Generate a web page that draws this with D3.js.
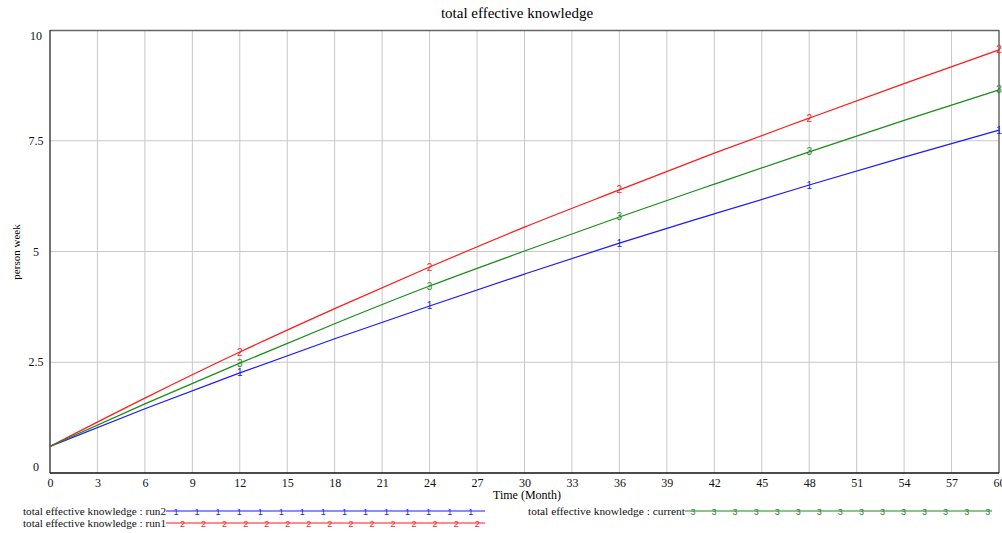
<!DOCTYPE html>
<html>
<head>
<meta charset="utf-8">
<script src="https://cdn.jsdelivr.net/npm/d3@7"></script>
<style>
  html, body { margin: 0; padding: 0; background: #fff; }
  svg { display: block; font-family: "Liberation Serif", "Times New Roman", serif; }
</style>
</head>
<body>
<svg id="chart" width="1002" height="533"></svg>
<script>
// Simulation output: total effective knowledge (person week) by month
const months = [0, 6, 12, 18, 24, 30, 36, 42, 48, 54, 60];
const run2 = [0.6, 1.45, 2.26, 3.03, 3.77, 4.49, 5.19, 5.85, 6.50, 7.13, 7.74];
const run1 = [0.6, 1.69, 2.73, 3.71, 4.65, 5.55, 6.39, 7.22, 8.01, 8.79, 9.55];
const current = [0.6, 1.56, 2.48, 3.37, 4.22, 5.01, 5.78, 6.52, 7.25, 7.96, 8.65];
const markerMonths = [12, 24, 36, 48, 60];
const xTicks = d3.range(0, 61, 3);
const yTicks = [0, 2.5, 5, 7.5, 10];
const yTickLabels = ["0", "2.5", "5", "7.5", "10"];

const series = [
  { name: "total effective knowledge : run2", values: run2, color: "#1a1aff", mark: "1" },
  { name: "total effective knowledge : run1", values: run1, color: "#ff1a1a", mark: "2" },
  { name: "total effective knowledge : current", values: current, color: "#1a8c1a", mark: "3" }
];

const svg = d3.select("#chart");
const plotLeft = 50, plotRight = 999, plotTop = 30, plotBottom = 473;

const x = d3.scaleLinear().domain([0, 60]).range([plotLeft, plotRight]);
const y = d3.scaleLinear().domain([0, 10]).range([plotBottom, plotTop]);

// Title
svg.append("text").attr("x", 517).attr("y", 18).attr("text-anchor", "middle")
  .attr("font-size", 15).text("total effective knowledge");

// Grid lines
const grid = svg.append("g");
grid.selectAll("line.v").data(xTicks.filter(d => d > 0 && d < 60)).join("line")
  .attr("x1", d => x(d)).attr("x2", d => x(d)).attr("y1", plotTop).attr("y2", plotBottom)
  .attr("stroke", "#c8c8c8").attr("stroke-width", 1);
grid.selectAll("line.h").data(yTicks.filter(d => d > 0 && d < 10)).join("line")
  .attr("x1", plotLeft).attr("x2", plotRight).attr("y1", d => y(d)).attr("y2", d => y(d))
  .attr("stroke", "#c8c8c8").attr("stroke-width", 1);

// Frame
svg.append("line").attr("x1", plotLeft).attr("x2", plotRight).attr("y1", plotTop + 0.5).attr("y2", plotTop + 0.5)
  .attr("stroke", "#666").attr("stroke-width", 1.5);
svg.append("line").attr("x1", plotRight).attr("x2", plotRight).attr("y1", plotTop).attr("y2", plotBottom)
  .attr("stroke", "#666").attr("stroke-width", 1.5);
svg.append("line").attr("x1", plotLeft).attr("x2", plotLeft).attr("y1", plotTop).attr("y2", plotBottom)
  .attr("stroke", "#444").attr("stroke-width", 1.5);
svg.append("line").attr("x1", plotLeft).attr("x2", plotRight).attr("y1", plotBottom).attr("y2", plotBottom)
  .attr("stroke", "#111").attr("stroke-width", 1.5);

// X axis labels
const xAxis = d3.axisBottom(x).tickValues(xTicks).tickSize(0).tickPadding(0).tickFormat(d3.format("d"));
const gx = svg.append("g").attr("transform", `translate(0,${plotBottom})`).call(xAxis);
gx.select(".domain").remove();
gx.selectAll("text").attr("font-family", "Liberation Serif, serif").attr("font-size", 12)
  .attr("fill", "#111").attr("dy", "1em").attr("y", 2);

// Y labels, kept inside the frame at the ends
const yAxis = svg.append("g");
yAxis.selectAll("text").data(yTicks).join("text")
  .attr("x", 36).attr("text-anchor", "middle").attr("font-size", 12).attr("fill", "#111")
  .attr("y", d => Math.min(Math.max(y(d), plotTop + 6), plotBottom - 6) + 4)
  .text((d, i) => yTickLabels[i]);

// Axis titles
svg.append("text").attr("x", 527).attr("y", 499).attr("text-anchor", "middle")
  .attr("font-size", 12).text("Time (Month)");
svg.append("text").attr("transform", "translate(20,252) rotate(-90)").attr("text-anchor", "middle")
  .attr("font-size", 11).text("person week");

// Series lines
const line = d3.line().x((d, i) => x(months[i])).y(d => y(d)).curve(d3.curveMonotoneX);
const lines = svg.append("g");
series.forEach(s => {
  lines.append("path").datum(s.values).attr("d", line)
    .attr("fill", "none").attr("stroke", s.color).attr("stroke-width", 1.2);
});
// Numbered markers on the lines
series.forEach(s => {
  lines.selectAll(null).data(markerMonths).join("text")
    .attr("x", d => x(d)).attr("y", d => y(s.values[months.indexOf(d)]) + 3.5)
    .attr("text-anchor", "middle").attr("font-size", 10).attr("font-family", "Liberation Sans, sans-serif")
    .attr("fill", s.color).text(s.mark);
});

// Legend
const legendRows = [
  { s: series[0], tx: 23, ty: 515, l0: 166, l1: 485, m0: 176 },
  { s: series[1], tx: 23, ty: 527, l0: 166, l1: 485, m0: 182.5 },
  { s: series[2], tx: 528, ty: 515, l0: 685, l1: 992, m0: 693 }
];
const legend = svg.append("g");
legendRows.forEach(r => {
  legend.append("text").attr("x", r.tx).attr("y", r.ty).attr("font-size", 11.2).attr("fill", "#111")
    .attr("textLength", r.l0 - r.tx).attr("lengthAdjust", "spacingAndGlyphs")
    .text(r.s.name);
  legend.append("line").attr("x1", r.l0).attr("x2", r.l1).attr("y1", r.ty - 4).attr("y2", r.ty - 4)
    .attr("stroke", r.s.color).attr("stroke-width", 1.2);
  legend.selectAll(null).data(d3.range(15)).join("text")
    .attr("x", i => r.m0 + i * 21.05).attr("y", r.ty - 0.5)
    .attr("text-anchor", "middle").attr("font-size", 9).attr("font-family", "Liberation Sans, sans-serif")
    .attr("fill", r.s.color).text(r.s.mark);
});
</script>
</body>
</html>
